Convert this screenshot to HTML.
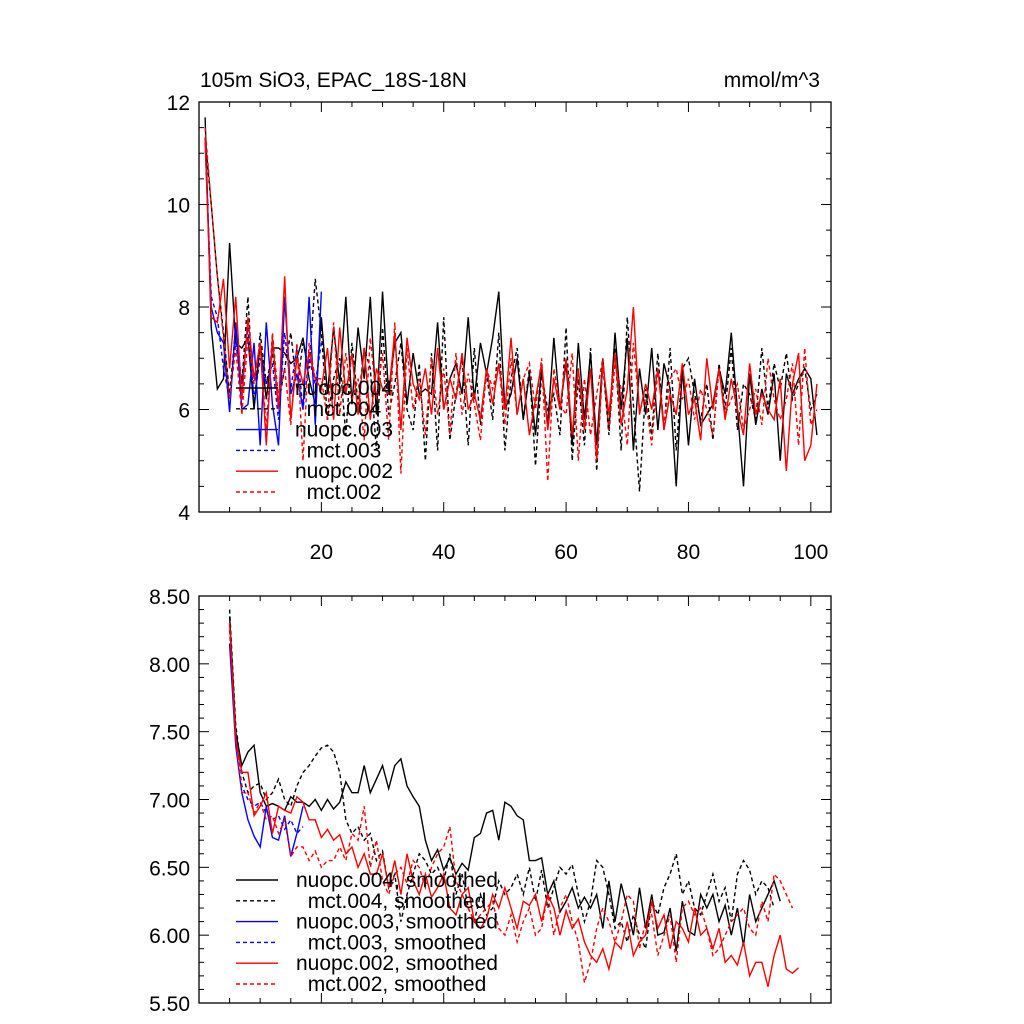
<!DOCTYPE html>
<html><head><meta charset="utf-8"><style>
html,body{margin:0;padding:0;background:#fff;}
svg{display:block;font-family:"Liberation Sans",sans-serif;}
</style></head><body>
<svg id="chart" width="1024" height="1024" viewBox="0 0 1024 1024" xmlns="http://www.w3.org/2000/svg">
<rect width="1024" height="1024" fill="#fff"/>
<text x="200" y="87" font-size="21">105m SiO3, EPAC_18S-18N</text>
<text x="820" y="87" font-size="21" text-anchor="end">mmol/m^3</text>
<g id="topPanel"></g><g id="botPanel"></g>
</svg>
<script>
const xTicks=[20,40,60,80,100];
const topYTicks=[4,6,8,10,12];
const topYLabels=["4","6","8","10","12"];
const botYTicks=[5.5,6.0,6.5,7.0,7.5,8.0,8.5];
const botYLabels=["5.50","6.00","6.50","7.00","7.50","8.00","8.50"];
const nuopc004=[11.7,7.6,6.4,6.6,9.25,7.3,7.2,7.4,6.0,7.3,6.2,7.2,7.2,7.1,6.9,7.0,7.4,6.6,6.1,7.8,6.3,7.6,6.5,8.2,6.1,7.6,6.6,8.2,5.9,8.3,6.3,7.3,7.5,6.1,7.1,6.3,6.4,6.3,7.7,6.0,6.6,6.9,6.3,7.8,6.2,7.3,6.7,7.4,8.3,6.0,6.3,7.0,5.8,6.7,5.5,6.8,5.7,7.4,6.0,6.9,5.3,7.3,5.8,7.1,5.3,7.0,5.6,7.5,6.0,7.4,5.2,6.8,5.9,7.2,5.6,6.9,6.4,4.5,6.8,5.3,6.6,5.7,5.9,6.1,6.8,6.3,7.5,6.0,4.5,6.7,5.7,6.4,5.9,6.7,5.0,6.7,6.3,6.6,6.8,6.6,5.5];
const mct004=[11.3,10.0,8.6,7.5,6.3,7.6,6.5,8.2,6.0,7.5,6.5,7.1,6.1,6.8,7.5,6.4,7.3,6.8,8.55,7.5,5.8,6.6,7.0,5.5,7.3,6.1,7.2,6.8,5.2,7.6,5.9,6.5,7.3,6.0,5.6,6.9,5.0,7.1,5.2,7.8,5.4,6.3,7.0,5.3,7.2,5.7,6.7,5.8,7.5,5.2,6.6,7.2,5.8,6.8,4.9,6.7,6.0,6.3,5.5,7.6,5.0,6.6,5.3,7.2,4.8,6.9,5.5,7.2,5.2,7.8,6.1,4.4,6.4,5.5,7.1,5.6,7.2,5.2,6.8,7.0,6.3,5.8,6.5,5.4,6.9,6.0,7.2,5.6,6.5,6.3,5.8,7.2,6.0,6.9,6.4,7.1,6.2,6.5,6.8,6.0,6.3];
const nuopc003=[11.3,8.0,7.5,7.3,5.95,7.7,6.0,6.1,7.3,5.3,7.7,6.1,5.3,8.2,6.3,6.7,6.0,8.2,5.7,8.3];
const mct003=[11.2,8.2,7.8,6.8,6.2,7.3,6.5,7.6,6.2,7.0,6.5,6.9,5.8,7.5,6.4,7.2,6.0,7.0,6.5,7.3];
const nuopc002=[11.3,7.8,7.7,8.55,6.8,8.2,6.2,7.8,6.6,7.3,5.3,7.4,6.0,8.6,5.8,7.0,6.5,7.1,6.6,6.4,7.2,5.8,7.6,6.3,7.1,5.9,7.2,5.8,6.8,6.4,6.3,7.5,5.6,7.4,6.5,6.2,6.8,5.9,7.2,6.0,6.6,6.2,7.1,6.0,6.3,5.8,6.8,6.1,6.9,6.0,7.4,5.9,6.6,5.5,6.2,6.9,5.6,6.6,6.0,7.0,5.5,6.8,5.6,6.8,5.0,6.9,5.9,7.1,5.7,6.4,8.0,5.9,6.5,6.0,6.8,5.6,6.3,5.9,6.9,5.9,6.2,5.4,7.0,6.0,6.8,5.8,6.6,6.0,5.5,6.9,5.9,6.3,6.0,5.8,6.6,4.8,6.5,7.1,5.0,5.3,6.5];
const mct002=[11.5,10.0,8.6,7.4,6.2,7.2,5.9,7.4,6.5,7.3,5.6,7.5,6.2,6.8,5.7,7.3,5.0,7.3,6.6,6.6,5.8,7.7,5.9,7.1,6.2,6.6,5.4,7.4,6.2,7.1,5.4,7.7,4.75,7.2,6.0,6.6,5.5,7.0,5.9,6.8,5.5,7.1,5.9,6.7,6.1,5.4,6.8,6.4,6.9,5.7,7.0,5.9,6.6,6.9,6.0,7.0,4.6,6.8,6.1,5.9,7.1,5.0,6.6,5.5,6.3,7.0,5.6,6.9,6.4,5.3,7.3,6.0,6.2,5.3,6.8,5.7,6.6,6.8,6.2,6.6,5.8,6.4,6.0,5.5,6.8,5.9,6.2,6.5,5.6,6.0,6.4,5.7,7.0,6.2,5.8,6.2,6.9,5.3,7.2,5.7,6.0];
const sNuopc004=[8.35,7.5,7.25,7.35,7.4,7.05,6.95,6.97,6.95,6.92,7.02,6.98,6.98,6.95,7.0,6.92,7.0,6.93,6.98,7.13,7.05,7.05,7.25,7.05,7.15,7.25,7.08,7.25,7.3,7.1,7.02,6.95,6.7,6.55,6.63,6.48,6.57,6.45,6.53,6.48,6.72,6.75,6.9,6.92,6.7,6.98,6.95,6.88,6.85,6.55,6.55,6.57,6.3,6.4,6.17,6.25,6.35,6.2,6.28,6.2,6.3,6.05,6.4,6.1,6.38,6.2,6.0,6.35,6.05,6.3,6.0,6.02,6.2,5.88,6.25,6.03,6.0,6.3,6.2,6.3,6.1,6.22,6.0,6.2,5.92,6.3,6.1,6.2,6.3,6.4,6.25];
const sMct004=[8.4,7.55,7.2,7.05,7.1,7.12,7.0,7.05,7.15,7.0,6.95,7.1,7.2,7.25,7.32,7.38,7.4,7.35,7.2,6.85,6.75,6.8,6.7,6.75,6.55,6.62,6.35,6.45,6.1,6.3,6.45,6.6,6.55,6.45,6.5,6.4,6.6,6.3,6.45,6.2,6.1,6.3,6.15,6.2,6.4,6.3,6.35,6.45,6.3,6.5,6.25,6.48,6.2,6.35,6.5,6.45,6.52,6.3,6.1,6.25,6.55,6.5,6.3,6.05,6.1,5.95,6.15,6.0,5.9,6.25,6.15,6.35,6.45,6.6,6.3,6.4,6.2,6.15,6.3,6.45,6.25,6.35,6.1,6.45,6.55,6.48,6.3,6.4,6.35,6.2];
const sNuopc003=[8.15,7.4,7.05,6.85,6.73,6.65,6.95,6.72,6.7,6.88,6.58,6.75,6.95];
const sMct003=[8.25,7.45,7.1,7.0,6.95,6.98,6.9,6.85,6.88,6.78,6.85,6.75,6.8];
const sNuopc002=[8.3,7.45,7.2,7.2,6.88,6.95,7.05,6.75,6.95,6.92,6.9,7.02,6.98,6.85,6.85,6.72,6.78,6.7,6.74,6.6,6.65,6.5,6.6,6.45,6.45,6.6,6.35,6.55,6.3,6.6,6.4,6.3,6.45,6.28,6.35,6.45,6.2,6.15,6.3,6.35,6.1,6.05,6.12,6.3,6.2,6.35,6.2,6.05,6.25,6.22,6.3,6.1,6.3,6.2,6.0,6.18,6.05,6.12,5.95,5.85,5.8,5.9,5.75,5.95,5.9,6.1,5.85,5.95,6.0,6.25,6.05,6.15,5.9,6.1,6.05,5.95,6.2,6.0,6.05,5.9,6.05,5.8,5.85,5.78,5.95,5.7,5.8,5.8,5.62,5.85,6.0,5.75,5.72,5.76];
const sMct002=[8.3,7.45,7.05,7.05,6.9,6.98,6.85,6.88,6.75,6.85,6.58,6.65,6.65,6.55,6.62,6.5,6.55,6.55,6.65,6.55,6.75,6.7,6.95,6.5,6.7,6.4,6.3,6.45,6.5,6.38,6.55,6.5,6.35,6.5,6.6,6.65,6.8,6.4,6.3,6.2,6.1,6.15,6.2,6.25,6.05,6.0,6.15,5.95,6.1,6.2,6.0,6.05,6.3,6.0,6.2,6.3,6.1,5.95,5.65,5.8,6.05,6.2,6.1,5.95,6.1,6.3,6.25,5.9,6.1,6.15,5.85,6.0,6.15,5.8,6.2,6.25,6.15,6.2,6.05,5.85,5.9,6.0,6.1,6.15,6.2,6.05,6.0,6.25,6.1,6.45,6.4,6.3,6.2];
const topNames=["nuopc.004","mct.004","nuopc.003","mct.003","nuopc.002","mct.002"];
const botNames=["nuopc.004, smoothed","mct.004, smoothed","nuopc.003, smoothed","mct.003, smoothed","nuopc.002, smoothed","mct.002, smoothed"];

const NS="http://www.w3.org/2000/svg";
const PL=199,PR=831,X0=0,X1=103.3;
const xs=v=>PL+(v-X0)/(X1-X0)*(PR-PL);
function mk(p,tag,at){const e=document.createElementNS(NS,tag);for(const k in at)e.setAttribute(k,at[k]);p.appendChild(e);return e;}
const styles=[["#000",""],["#000","4,3"],["#00f",""],["#00f","4,3"],["#f00",""],["#f00","4,3"]];

function panel(g,T,B,y0,y1,yt,yl,minorStep,series,starts,names,legY,legCx,pref){
  const ys=v=>B-(v-y0)/(y1-y0)*(B-T);
  const fr=mk(g,'rect',{x:PL,y:T,width:PR-PL,height:B-T,fill:'none',stroke:'#000','stroke-width':1.3});
  
  
  for(let v=5;v<=100;v+=5){const maj=v%20===0;const x=xs(v);const len=maj?10:5;
    mk(g,'line',{x1:x,x2:x,y1:B,y2:B-len,stroke:'#000','stroke-width':1});
    mk(g,'line',{x1:x,x2:x,y1:T,y2:T+len,stroke:'#000','stroke-width':1});}
  const nSteps=Math.round((y1-y0)/minorStep);
  for(let i=0;i<=nSteps;i++){const v=y0+i*minorStep;const maj=yt.some(t=>Math.abs(t-v)<1e-6);const y=ys(v);const len=maj?10:5;
    mk(g,'line',{x1:PL,x2:PL+len,y1:y,y2:y,stroke:'#000','stroke-width':1});
    mk(g,'line',{x1:PR,x2:PR-len,y1:y,y2:y,stroke:'#000','stroke-width':1});}
  yt.forEach((v,i)=>{const t=mk(g,'text',{x:PL-9,y:ys(v)+8,'font-size':21,'text-anchor':'end'});t.textContent=yl[i];
    
    });
  series.forEach((s,k)=>{const pts=s.map((v,i)=>xs(starts[k]+i)+','+ys(v)).join(' ');
    const pl=mk(g,'polyline',{points:pts,fill:'none',stroke:styles[k][0],'stroke-width':1.4,'stroke-dasharray':styles[k][1]});
    
    });
  names.forEach((n,k)=>{const y=legY+k*20.8;
    const ln=mk(g,'line',{x1:236,x2:278,y1:y,y2:y,stroke:styles[k][0],'stroke-width':1.4,'stroke-dasharray':styles[k][1]});
    
    
    const t=mk(g,'text',{x:legCx,y:y+7,'font-size':21,'text-anchor':'middle'});t.textContent=n;
    
    });
}
const topG=document.getElementById('topPanel');


panel(topG,102,512,4,12,topYTicks,topYLabels,0.5,[nuopc004,mct004,nuopc003,mct003,nuopc002,mct002],[1,1,1,1,1,1],topNames,388,344,'top');
xTicks.forEach(v=>{const t=mk(topG,'text',{x:xs(v),y:559,'font-size':21,'text-anchor':'middle'});t.textContent=String(v);
  
  });
const botG=document.getElementById('botPanel');


panel(botG,596,1003,5.5,8.5,botYTicks,botYLabels,0.1,[sNuopc004,sMct004,sNuopc003,sMct003,sNuopc002,sMct002],[5,5,5,5,5,5],botNames,880,397,'bottom');
</script>
</body></html>
